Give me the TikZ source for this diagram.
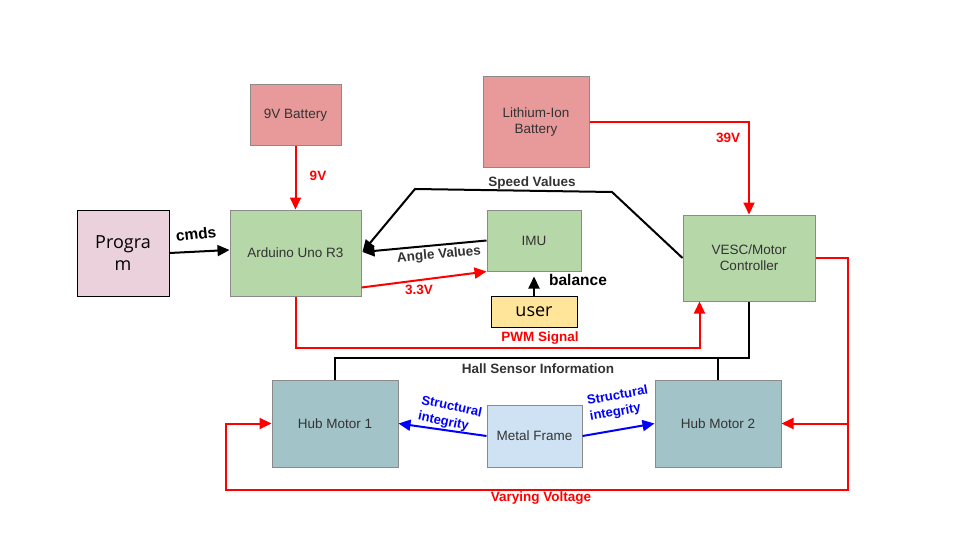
\documentclass[tikz,border=0pt]{standalone}
\usepackage{fontspec}
\setmainfont{Liberation Sans}
\newfontfamily\lightfont{Open Sans}
\usetikzlibrary{arrows.meta,calc}
\definecolor{batred}{HTML}{E89A9A}
\definecolor{boxgreen}{HTML}{B6D7A8}
\definecolor{boxpink}{HTML}{EAD1DC}
\definecolor{boxyellow}{HTML}{FFE599}
\definecolor{boxteal}{HTML}{A2C4C9}
\definecolor{boxblue}{HTML}{CFE2F3}
\definecolor{boxline}{HTML}{8A8A8A}
\definecolor{txtgray}{HTML}{333333}
\tikzset{
  blk/.style={draw=boxline,line width=1pt,inner sep=2pt,align=center,
    font=\fontsize{13.5}{16}\selectfont,text=txtgray},
  hand/.style={draw=black,line width=1pt,inner sep=2pt,align=center,
    font=\lightfont\fontsize{18}{22}\selectfont,text=black},
  redln/.style={draw=red,line width=2pt},
  blkln/.style={draw=black,line width=2pt},
  bluln/.style={draw=blue,line width=2pt},
  tip/.style={-{Triangle[length=12pt,width=11pt]}},
  lab/.style={font=\bfseries\fontsize{13.5}{14}\selectfont,inner sep=1pt},
  twolab/.style={lab,align=left,text=blue,font=\bfseries\fontsize{13}{16}\selectfont},
}
\begin{document}
\begin{tikzpicture}[x=1pt,y=-1pt]
\useasboundingbox (0,0) rectangle (960,540);
% blocks
\node[blk,fill=batred,minimum width=91pt,minimum height=61pt] (bat9) at (295.5,115.5) {9V Battery};
\node[blk,fill=batred,minimum width=106pt,minimum height=91pt] (liion) at (536,122.5) {Lithium-Ion\\Battery};
\node[hand,fill=boxpink,minimum width=92pt,minimum height=86pt] (prog) at (123,253) {Progra\\m};
\node[blk,fill=boxgreen,minimum width=131pt,minimum height=86pt] (ard) at (295.5,253) {Arduino Uno R3};
\node[blk,fill=boxgreen,minimum width=94pt,minimum height=61pt] (imu) at (534,240.5) {IMU};
\node[hand,fill=boxyellow,minimum width=86pt,minimum height=31pt] (user) at (534,311.5) {user};
\node[blk,fill=boxgreen,minimum width=132pt,minimum height=86pt] (vesc) at (749,258) {VESC/Motor\\Controller};
\node[blk,fill=boxteal,minimum width=126pt,minimum height=87pt] (hub1) at (335,423.5) {Hub Motor 1};
\node[blk,fill=boxblue,minimum width=95pt,minimum height=62pt] (frame) at (534.5,436) {Metal Frame};
\node[blk,fill=boxteal,minimum width=126pt,minimum height=87pt] (hub2) at (718,423.5) {Hub Motor 2};
% helper coordinates
\coordinate (sv1) at (612,192);
\coordinate (sv2) at (415,189);
\coordinate (vr) at (848,490);
\coordinate (vl) at (226,490);
% red power lines
\draw[redln,tip] (bat9.south) -- (ard.north);
\draw[redln,tip] (liion.east) -| (vesc.north);
\draw[redln,tip] ($(ard.south east)+(0,-9)$) -- (imu.south west);
\draw[redln,tip] (ard.south) |- ($(vesc.south west)+(17,46)$) -- ($(vesc.south west)+(17,0)$);
\draw[redln,tip] (vesc.east) -| (vr) -- (vl) |- (hub1.west);
\draw[redln,tip] (hub2.east -| vr) -- (hub2.east);
% black lines
\draw[blkln,tip] (prog.east) -- ($(ard.west)+(0,-3)$);
\draw[blkln,tip] (vesc.west) -- (sv1) -- (sv2) -- ($(ard.east)+(1,-1)$);
\draw[blkln,tip] (imu.west) -- ($(ard.east)+(1,-1)$);
\draw[blkln,tip,shorten >=5pt] (user.north) -- (imu.south);
\draw[blkln] (vesc.south) |- ($(hub1.north)+(0,-22)$) -- (hub1.north);
\draw[blkln] (hub2.north) -- ++(0,-22);
% blue lines
\draw[bluln,tip] (frame.west) -- (hub1.east);
\draw[bluln,tip] (frame.east) -- (hub2.west);
% labels
\node[lab,text=red] (l9v) at (318,176) {9V};
\node[lab,text=red] (l39v) at (728,138) {39V};
\node[lab,font=\bfseries\fontsize{15.5}{17}\selectfont,rotate=7] (lcmds) at (196,234) {cmds};
\node[lab,text=txtgray] (lspeed) at (532,183) {Speed Values};
\node[lab,text=txtgray,rotate=5] (langle) at (439,255) {Angle Values};
\node[lab,text=red] (l33) at (419,290) {3.3V};
\node[lab,font=\bfseries\fontsize{15.5}{17}\selectfont] (lbal) at (578,280) {balance};
\node[lab,text=red] (lpwm) at (540,338) {PWM Signal};
\node[lab,text=txtgray] (lhall) at (538,369) {Hall Sensor Information};
\node[lab,text=red] (lvv) at (541,498) {Varying Voltage};
\node[twolab,rotate=-12] (ls1) at (450,415) {Structural\\integrity};
\node[twolab,rotate=10] (ls2) at (619,404) {Structural\\integrity};
\end{tikzpicture}
\end{document}
